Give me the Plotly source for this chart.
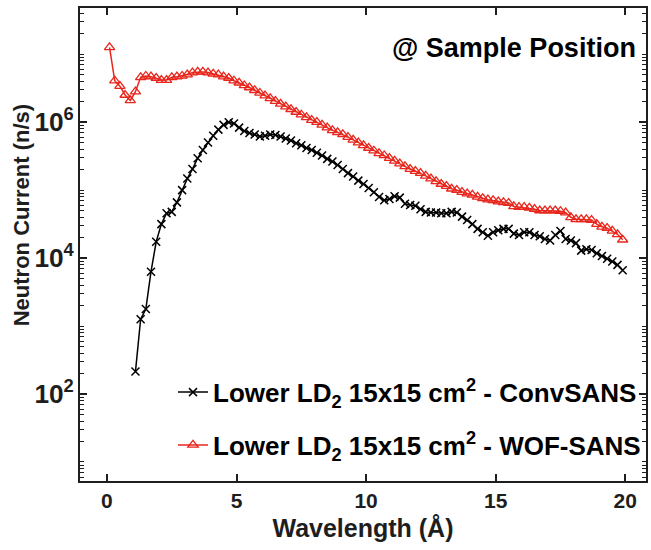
import plotly.graph_objects as go

# Wavelength grid (Å)
wave_wof = [0.1, 0.3, 0.5, 0.7, 0.9, 1.1, 1.3, 1.5, 1.7, 1.9, 2.1, 2.3, 2.5, 2.7, 2.9, 3.1, 3.3, 3.5, 3.7, 3.9,
            4.1, 4.3, 4.5, 4.7, 4.9, 5.1, 5.3, 5.5, 5.7, 5.9, 6.1, 6.3, 6.5, 6.7, 6.9, 7.1, 7.3, 7.5, 7.7, 7.9,
            8.1, 8.3, 8.5, 8.7, 8.9, 9.1, 9.3, 9.5, 9.7, 9.9, 10.1, 10.3, 10.5, 10.7, 10.9, 11.1, 11.3, 11.5, 11.7, 11.9,
            12.1, 12.3, 12.5, 12.7, 12.9, 13.1, 13.3, 13.5, 13.7, 13.9, 14.1, 14.3, 14.5, 14.7, 14.9, 15.1, 15.3, 15.5, 15.7, 15.9,
            16.1, 16.3, 16.5, 16.7, 16.9, 17.1, 17.3, 17.5, 17.7, 17.9, 18.1, 18.3, 18.5, 18.7, 18.9, 19.1, 19.3, 19.5, 19.7, 19.9]
# log10 of neutron current, WOF-SANS
log_wof = [7.10, 6.61, 6.53, 6.40, 6.32, 6.45, 6.66, 6.68, 6.67, 6.65, 6.62, 6.62, 6.66, 6.67, 6.68, 6.70, 6.73, 6.74, 6.74, 6.73,
           6.71, 6.70, 6.67, 6.65, 6.61, 6.58, 6.54, 6.51, 6.47, 6.43, 6.39, 6.35, 6.31, 6.27, 6.23, 6.19, 6.15, 6.11, 6.07, 6.03,
           6.00, 5.96, 5.92, 5.88, 5.85, 5.82, 5.78, 5.74, 5.70, 5.66, 5.62, 5.58, 5.54, 5.51, 5.47, 5.43, 5.39, 5.35, 5.31, 5.28,
           5.25, 5.21, 5.17, 5.13, 5.09, 5.06, 5.02, 5.00, 4.97, 4.95, 4.93, 4.90, 4.88, 4.86, 4.85, 4.83, 4.82, 4.81, 4.76, 4.75,
           4.75, 4.74, 4.72, 4.70, 4.70, 4.70, 4.70, 4.69, 4.67, 4.60, 4.57, 4.57, 4.57, 4.56, 4.50, 4.46, 4.44, 4.40, 4.35, 4.27]

wave_conv = [1.1, 1.3, 1.5, 1.7, 1.9, 2.1, 2.3, 2.5, 2.7, 2.9, 3.1, 3.3, 3.5, 3.7, 3.9,
             4.1, 4.3, 4.5, 4.7, 4.9, 5.1, 5.3, 5.5, 5.7, 5.9, 6.1, 6.3, 6.5, 6.7, 6.9, 7.1, 7.3, 7.5, 7.7, 7.9,
             8.1, 8.3, 8.5, 8.7, 8.9, 9.1, 9.3, 9.5, 9.7, 9.9, 10.1, 10.3, 10.5, 10.7, 10.9, 11.1, 11.3, 11.5, 11.7, 11.9,
             12.1, 12.3, 12.5, 12.7, 12.9, 13.1, 13.3, 13.5, 13.7, 13.9, 14.1, 14.3, 14.5, 14.7, 14.9, 15.1, 15.3, 15.5, 15.7, 15.9,
             16.1, 16.3, 16.5, 16.7, 16.9, 17.1, 17.3, 17.5, 17.7, 17.9, 18.1, 18.3, 18.5, 18.7, 18.9, 19.1, 19.3, 19.5, 19.7, 19.9]
# log10 of neutron current, ConvSANS
log_conv = [2.33, 3.10, 3.25, 3.80, 4.24, 4.50, 4.66, 4.68, 4.82, 5.00, 5.17, 5.31, 5.47, 5.59, 5.70,
            5.80, 5.89, 5.96, 6.00, 5.98, 5.92, 5.87, 5.84, 5.82, 5.79, 5.80, 5.82, 5.81, 5.79, 5.76, 5.73, 5.69, 5.66, 5.62, 5.59,
            5.55, 5.51, 5.46, 5.42, 5.37, 5.31, 5.25, 5.20, 5.14, 5.09, 5.03, 4.97, 4.90, 4.85, 4.87, 4.91, 4.89, 4.80, 4.78, 4.77,
            4.72, 4.68, 4.67, 4.67, 4.66, 4.66, 4.68, 4.67, 4.61, 4.56, 4.50, 4.43, 4.38, 4.33, 4.38, 4.41, 4.43, 4.43, 4.36, 4.34,
            4.38, 4.38, 4.34, 4.32, 4.28, 4.26, 4.34, 4.40, 4.28, 4.26, 4.22, 4.11, 4.13, 4.12, 4.07, 4.03, 3.99, 3.95, 3.90, 3.82]

current_wof = [10 ** v for v in log_wof]
current_conv = [10 ** v for v in log_conv]

name_conv = "Lower LD<sub>2</sub> 15x15 cm<sup>2</sup> - ConvSANS"
name_wof = "Lower LD<sub>2</sub> 15x15 cm<sup>2</sup> - WOF-SANS"

FONT = "Liberation Sans, Arial, sans-serif"
RED = "#e8261c"
INK = "#1e1e1e"

fig = go.Figure()
fig.add_trace(go.Scatter(
    x=wave_conv, y=current_conv, mode="lines+markers", name=name_conv,
    line=dict(color="black", width=1.5),
    marker=dict(symbol="x-thin-open", size=8, color="black", line=dict(color="black", width=1.5)),
    legendgroup="a",
))
fig.add_trace(go.Scatter(
    x=wave_wof, y=current_wof, mode="lines+markers", name=name_wof,
    line=dict(color=RED, width=1.5),
    marker=dict(symbol="triangle-up-open", size=9, color=RED, line=dict(color=RED, width=1.3)),
    legendgroup="b",
))

axis_common = dict(
    showline=True, linecolor=INK, linewidth=2, mirror="ticks",
    ticks="inside", ticklen=7, tickwidth=1.5, tickcolor=INK,
    showgrid=False, zeroline=False,
    tickfont=dict(family=FONT, size=21, color=INK, weight="bold"),
)

fig.update_xaxes(
    range=[-1.04, 20.8], tickvals=[0, 5, 10, 15, 20],
    title=dict(text="Wavelength (Å)", font=dict(family=FONT, size=25, color=INK, weight="bold"), standoff=8),
    **axis_common,
)
fig.update_yaxes(
    type="log", range=[0.72, 7.68], dtick=2, exponentformat="power",
    minor=dict(ticks="inside", ticklen=4, dtick="D1", tickcolor=INK, tickwidth=1),
    **axis_common,
)

# y-axis title (placed as in the reference, slightly above plot centre)
fig.add_annotation(
    text="Neutron Current (n/s)", xref="paper", yref="paper", x=-0.104, y=0.562,
    xanchor="center", yanchor="middle", textangle=-90, showarrow=False,
    font=dict(family=FONT, size=22, color=INK, weight="bold"),
)

fig.add_annotation(
    text="@ Sample Position", xref="paper", yref="paper", x=1.0, y=0.915,
    xanchor="right", yanchor="middle", showarrow=False, xshift=-8,
    font=dict(family=FONT, size=27, color="black", weight="bold"),
)

fig.update_layout(
    width=651, height=550,
    margin=dict(l=80, r=3, t=8, b=69),
    plot_bgcolor="white", paper_bgcolor="white",
    legend=dict(
        x=1.0, y=0.026, xanchor="right", yanchor="bottom",
        bgcolor="rgba(0,0,0,0)", borderwidth=0,
        font=dict(family=FONT, size=26, color="black", weight="bold"),
        tracegroupgap=16, traceorder="grouped", itemwidth=30,
    ),
)

fig.write_html("out.html")
